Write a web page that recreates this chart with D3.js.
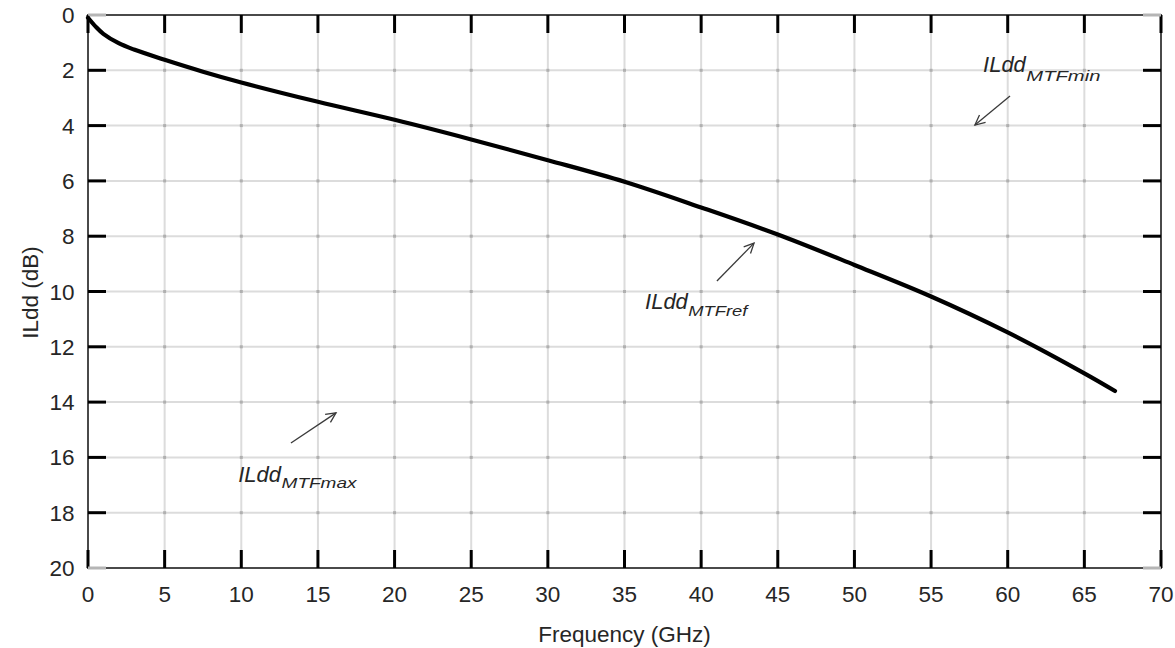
<!DOCTYPE html>
<html>
<head>
<meta charset="utf-8">
<script src="https://cdn.jsdelivr.net/npm/d3@7"></script>
<style>
  html, body { margin: 0; padding: 0; background: #fff; }
  svg { display: block; }
  text { font-family: "Liberation Sans", Arial, sans-serif; fill: #262626; }
</style>
</head>
<body>
<svg id="chart" width="1175" height="648"></svg>
<script>
// ---- data ----
const frequency = [0, 0.5, 1, 2, 3, 5, 7.5, 10, 15, 20, 25, 30, 35, 40, 45, 50, 55, 60, 65, 67];
const ildd      = [0.1, 0.42, 0.68, 1.02, 1.25, 1.62, 2.05, 2.44, 3.14, 3.79, 4.5, 5.25, 6.03, 6.96, 7.94, 9.04, 10.18, 11.48, 12.96, 13.6];
const xTicks = [0, 5, 10, 15, 20, 25, 30, 35, 40, 45, 50, 55, 60, 65, 70];
const yTicks = [0, 2, 4, 6, 8, 10, 12, 14, 16, 18, 20];
const annLabels = ["MTFmin", "MTFref", "MTFmax"];
const annTextX = [58.39, 36.34, 9.80];
const annTextY = [2.05, 10.65, 16.88];
const annSubDy = [9, 6.5, 6];
const annSubLen = [74, 59, 75];
const arrowFromX = [60.15, 41.03, 13.24];
const arrowFromY = [2.93, 9.62, 15.48];
const arrowToX = [57.86, 43.45, 16.18];
const arrowToY = [3.98, 8.25, 14.39];

// ---- layout ----
const L = 88, R = 1161, T = 15, B = 568;
const FS = 22.5;
const svg = d3.select("#chart");
const x = d3.scaleLinear().domain([0, 70]).range([L, R]);
const y = d3.scaleLinear().domain([0, 20]).range([T, B]);

// grid
const grid = svg.append("g");
grid.selectAll("line.vg").data(xTicks.slice(1, -1)).join("line")
  .attr("x1", d => x(d)).attr("x2", d => x(d)).attr("y1", T).attr("y2", B)
  .attr("stroke", "#dcdcdc").attr("stroke-width", 2);
grid.selectAll("line.hg").data(yTicks.slice(1, -1)).join("line")
  .attr("x1", L).attr("x2", R).attr("y1", d => y(d)).attr("y2", d => y(d))
  .attr("stroke", "#dcdcdc").attr("stroke-width", 2);
const inter = [];
xTicks.slice(1, -1).forEach(a => yTicks.slice(1, -1).forEach(b => inter.push([a, b])));
grid.selectAll("rect.dot").data(inter).join("rect")
  .attr("x", d => x(d[0]) - 1.5).attr("y", d => y(d[1]) - 1.5)
  .attr("width", 3).attr("height", 3).attr("fill", "#b0b0b0");

// frame
svg.append("rect").attr("x", L).attr("y", T).attr("width", R - L).attr("height", B - T)
  .attr("fill", "none").attr("stroke", "#4a4a4a").attr("stroke-width", 2);

// ticks
const tl = 18;
const tk = svg.append("g");
tk.selectAll("line.xb").data(xTicks).join("line")
  .attr("x1", d => x(d)).attr("x2", d => x(d)).attr("y1", B).attr("y2", B - tl)
  .attr("stroke", "#000").attr("stroke-width", 3);
tk.selectAll("line.xt").data(xTicks).join("line")
  .attr("x1", d => x(d)).attr("x2", d => x(d)).attr("y1", T).attr("y2", T + tl)
  .attr("stroke", "#000").attr("stroke-width", 3);
const ytCol = d => (d === 0 || d === 20) ? "#b5b5b5" : "#000";
tk.selectAll("line.yl").data(yTicks).join("line")
  .attr("x1", L).attr("x2", L + tl).attr("y1", d => y(d)).attr("y2", d => y(d))
  .attr("stroke", ytCol).attr("stroke-width", 3);
tk.selectAll("line.yr").data(yTicks).join("line")
  .attr("x1", R).attr("x2", R - tl).attr("y1", d => y(d)).attr("y2", d => y(d))
  .attr("stroke", ytCol).attr("stroke-width", 3);

// tick labels
svg.append("g").selectAll("text").data(xTicks).join("text")
  .attr("x", d => x(d)).attr("y", 602).attr("text-anchor", "middle")
  .attr("font-size", FS).text(d => d);
svg.append("g").selectAll("text").data(yTicks).join("text")
  .attr("x", 74.5).attr("y", d => y(d) + 8).attr("text-anchor", "end")
  .attr("font-size", FS).text(d => d);

// axis titles
svg.append("text").attr("x", (L + R) / 2).attr("y", 642).attr("text-anchor", "middle")
  .attr("font-size", FS).text("Frequency (GHz)");
svg.append("text").attr("transform", `translate(37.5,${(T + B) / 2 + 1}) rotate(-90)`)
  .attr("text-anchor", "middle").attr("font-size", FS).text("ILdd (dB)");

// curve
const pts = frequency.map((f, i) => [f, ildd[i]]);
svg.append("path").datum(pts)
  .attr("d", d3.line().x(d => x(d[0])).y(d => y(d[1])).curve(d3.curveCatmullRom.alpha(0.5)))
  .attr("fill", "none").attr("stroke", "#000").attr("stroke-width", 4.2)
  .attr("stroke-linecap", "round").attr("stroke-linejoin", "round");

// annotations
annLabels.forEach((lab, i) => {
  const tx = x(annTextX[i]), ty = y(annTextY[i]);
  const main = svg.append("text").attr("x", tx).attr("y", ty)
    .attr("font-size", 22).attr("font-style", "italic").text("ILdd");
  const w = main.node().getComputedTextLength();
  svg.append("text").attr("x", tx + w + 0.5).attr("y", ty + annSubDy[i])
    .attr("font-size", 15.5).attr("font-style", "italic")
    .attr("textLength", annSubLen[i]).attr("lengthAdjust", "spacingAndGlyphs")
    .text(lab);
  const x1 = x(arrowFromX[i]), y1 = y(arrowFromY[i]);
  const x2 = x(arrowToX[i]), y2 = y(arrowToY[i]);
  svg.append("line").attr("x1", x1).attr("y1", y1).attr("x2", x2).attr("y2", y2)
    .attr("stroke", "#3a3a3a").attr("stroke-width", 1.3);
  const ang = Math.atan2(y2 - y1, x2 - x1);
  const hl = 11, ha = 0.45;
  const p1 = [x2 - hl * Math.cos(ang - ha), y2 - hl * Math.sin(ang - ha)];
  const p2 = [x2 - hl * Math.cos(ang + ha), y2 - hl * Math.sin(ang + ha)];
  svg.append("path").attr("d", `M${p1[0]},${p1[1]}L${x2},${y2}L${p2[0]},${p2[1]}`)
    .attr("fill", "none").attr("stroke", "#3a3a3a").attr("stroke-width", 1.3);
});
</script>
</body>
</html>
